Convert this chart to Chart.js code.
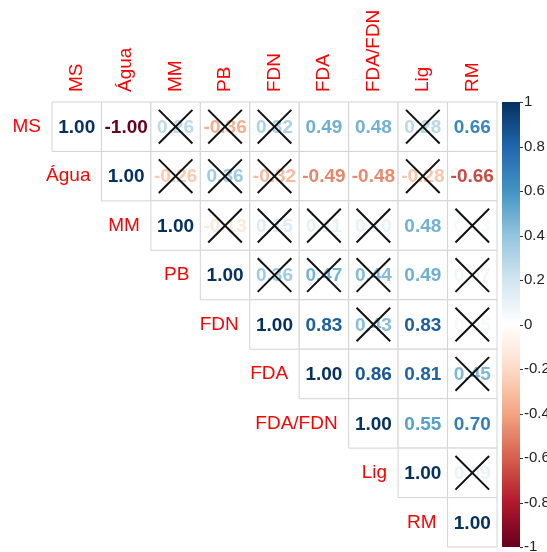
<!DOCTYPE html>
<html>
<head>
<meta charset="utf-8">
<script src="https://cdn.jsdelivr.net/npm/chart.js@4.4.1/dist/chart.umd.min.js"></script>
<style>
  html, body { margin: 0; padding: 0; background: #fff; }
  #wrap { width: 547px; height: 552px; }
</style>
</head>
<body>
<div id="wrap"><canvas id="myChart"></canvas></div>
<script>
// DATA
const variables = ['MS', 'Água', 'MM', 'PB', 'FDN', 'FDA', 'FDA/FDN', 'Lig', 'RM'];
// upper triangle, every row starts on the diagonal
const rowMS     = [1.00, -1.00, 0.26, -0.36, 0.32, 0.49, 0.48, 0.28, 0.66];
const rowAgua   = [1.00, -0.26, 0.36, -0.32, -0.49, -0.48, -0.28, -0.66];
const rowMM     = [1.00, -0.13, 0.15, 0.11, 0.10, 0.48, 0.03];
const rowPB     = [1.00, 0.36, 0.47, 0.44, 0.49, 0.07];
const rowFDN    = [1.00, 0.83, 0.43, 0.83, 0.05];
const rowFDA    = [1.00, 0.86, 0.81, 0.45];
const rowFDAFDN = [1.00, 0.55, 0.70];
const rowLig    = [1.00, 0.09];
const rowRM     = [1.00];
const rows = [rowMS, rowAgua, rowMM, rowPB, rowFDN, rowFDA, rowFDAFDN, rowLig, rowRM];

// non significant pairs (drawn with an X)
const crossed = [
    ['MS', 'MM'], ['MS', 'PB'], ['MS', 'FDN'], ['MS', 'Lig'],
    ['Água', 'MM'], ['Água', 'PB'], ['Água', 'FDN'], ['Água', 'Lig'],
    ['MM', 'PB'], ['MM', 'FDN'], ['MM', 'FDA'], ['MM', 'FDA/FDN'], ['MM', 'RM'],
    ['PB', 'FDN'], ['PB', 'FDA'], ['PB', 'FDA/FDN'], ['PB', 'RM'],
    ['FDN', 'FDA/FDN'], ['FDN', 'RM'],
    ['FDA', 'RM'],
    ['Lig', 'RM']
];

const colorbarTicks = [1, 0.8, 0.6, 0.4, 0.2, 0, -0.2, -0.4, -0.6, -0.8, -1];
const palette = ['#67001F', '#B2182B', '#D6604D', '#F4A582', '#FDDBC7', '#FFFFFF',
                 '#D1E5F0', '#92C5DE', '#4393C3', '#2166AC', '#053061'];

// POINTS
const cellPoints = [];
rows.forEach((row, i) => {
    row.forEach((v, k) => {
        cellPoints.push({ x: i + k + 1, y: i + 1, v: v });
    });
});
const crossPoints = crossed.map(p => ({
    x: variables.indexOf(p[1]) + 1,
    y: variables.indexOf(p[0]) + 1
}));

// FUNCTIONS
function hexToRgb(h) {
    return [parseInt(h.substr(1, 2), 16), parseInt(h.substr(3, 2), 16), parseInt(h.substr(5, 2), 16)];
}

function corrColor(v) {
    let t = (v + 1) / 2 * (palette.length - 1);
    let i = Math.min(Math.floor(t), palette.length - 2);
    let f = t - i;
    let a = hexToRgb(palette[i]);
    let b = hexToRgb(palette[i + 1]);
    let c = a.map((x, j) => Math.round(x + (b[j] - x) * f));
    return `rgb(${c[0]}, ${c[1]}, ${c[2]})`;
}

function halfCell(chart) {
    let s = chart.scales.x;
    return (s.getPixelForValue(1.5) - s.getPixelForValue(0.5)) / 2;
}

const FONT = '"Liberation Sans", Arial, sans-serif';

// numbers go right after the cells, before the crosses
const corrPlugin = {
    id: 'corrPlugin',
    afterDatasetDraw(chart, args) {
        if (args.meta.dataset !== undefined && chart.data.datasets[args.index].label !== 'cells') return;
        const ctx = chart.ctx;
        ctx.save();
        ctx.font = `bold 19px ${FONT}`;
        ctx.textAlign = 'center';
        ctx.textBaseline = 'middle';
        args.meta.data.forEach((pt, i) => {
            let v = cellPoints[i].v;
            ctx.fillStyle = corrColor(v);
            ctx.fillText(v.toFixed(2), pt.x, pt.y + 1);
        });
        ctx.restore();
    },
    afterDraw(chart) {
        const ctx = chart.ctx;
        const xs = chart.scales.x;
        const ys = chart.scales.y;
        const area = chart.chartArea;
        const h = halfCell(chart);
        ctx.save();
        ctx.fillStyle = '#ff0000';
        ctx.font = `19px ${FONT}`;

        // labels on top
        variables.forEach((name, i) => {
            ctx.save();
            ctx.translate(xs.getPixelForValue(i + 1), area.top - 10);
            ctx.rotate(-Math.PI / 2);
            ctx.textAlign = 'left';
            ctx.textBaseline = 'middle';
            ctx.fillText(name, 0, 0);
            ctx.restore();
        });

        // labels along the diagonal
        ctx.textAlign = 'right';
        ctx.textBaseline = 'middle';
        variables.forEach((name, i) => {
            ctx.fillText(name, xs.getPixelForValue(i + 1) - h - 11, ys.getPixelForValue(i + 1));
        });

        // colorbar
        const cb = chart.scales.cb;
        const top = cb.getPixelForValue(1);
        const bottom = cb.getPixelForValue(-1);
        const left = area.right + 5;
        const width = 18;
        const grad = ctx.createLinearGradient(0, top, 0, bottom);
        palette.slice().reverse().forEach((c, i) => grad.addColorStop(i / (palette.length - 1), c));
        ctx.fillStyle = grad;
        ctx.fillRect(left, top, width, bottom - top);

        ctx.strokeStyle = '#333';
        ctx.lineWidth = 1;
        ctx.fillStyle = '#222';
        ctx.font = `15px ${FONT}`;
        ctx.textAlign = 'left';
        colorbarTicks.forEach(t => {
            let y = cb.getPixelForValue(t);
            ctx.beginPath();
            ctx.moveTo(left + width, Math.round(y) + 0.5);
            ctx.lineTo(left + width + 3, Math.round(y) + 0.5);
            ctx.stroke();
            ctx.fillText(String(t), left + width + 4, y);
        });
        ctx.restore();
    }
};

// DRAWING THE CHART
const ctx = document.getElementById('myChart').getContext('2d');
const myChart = new Chart(ctx, {
    type: 'scatter',
    data: {
        datasets: [
            {
                label: 'crosses',
                data: crossPoints,
                order: 1,
                clip: false,
                pointStyle: 'crossRot',
                borderColor: '#111111',
                borderWidth: 2,
                pointRadius: c => halfCell(c.chart) * 0.68 / Math.SQRT1_2
            },
            {
                label: 'cells',
                data: cellPoints,
                order: 2,
                clip: false,
                pointStyle: 'rect',
                backgroundColor: '#ffffff',
                borderColor: '#d4d4d4',
                borderWidth: 1,
                pointRadius: c => halfCell(c.chart) / Math.SQRT1_2
            }
        ]
    },
    options: {
        responsive: true,
        maintainAspectRatio: false,
        animation: false,
        events: [],
        layout: { padding: { left: 52, right: 50, top: 102, bottom: 5 } },
        plugins: { legend: { display: false }, tooltip: { enabled: false } },
        scales: {
            x: { type: 'linear', min: 0.5, max: 9.5, display: false },
            y: { type: 'linear', min: 0.5, max: 9.5, reverse: true, display: false },
            cb: { type: 'linear', axis: 'y', min: -1, max: 1, display: false }
        }
    },
    plugins: [corrPlugin]
});
</script>
</body>
</html>
